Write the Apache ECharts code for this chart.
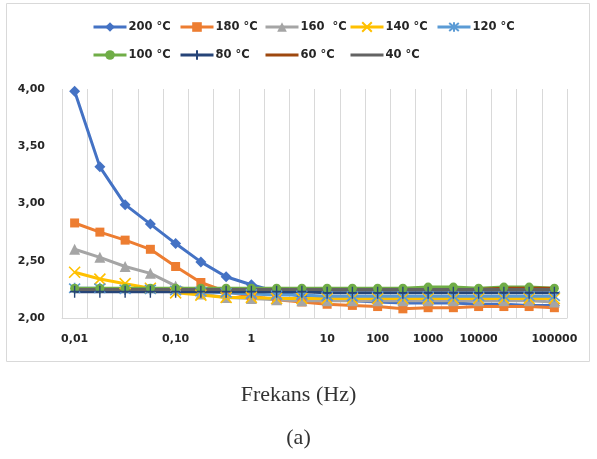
<!DOCTYPE html>
<html>
<head>
<meta charset="utf-8">
<script src="https://cdn.jsdelivr.net/npm/echarts@6/dist/echarts.min.js"></script>
<style>html,body{margin:0;padding:0;background:#fff}#c{width:597px;height:459px}</style>
</head>
<body>
<div id="c"></div>
<script>
const categories = ['0.01','0.0178','0.0316','0.0562','0.1','0.178','0.316','1','2.15','4.64','10','31.6','100','316','1000','3162','10000','21544','46416','100000'];
const tickLabels = ['0,01','','','','0,10','','','1','','','10','','100','','1000','','10000','','','100000'];
const yTicks = [2.0, 2.5, 3.0, 3.5, 4.0];
const seriesNames = ['200 °C','180 °C','160  °C','140 °C','120 °C','100 °C','80 °C','60 °C','40 °C'];
const s200 = [3.98,3.32,2.99,2.82,2.65,2.49,2.36,2.29,2.23,2.19,2.16,2.15,2.14,2.13,2.13,2.13,2.12,2.12,2.11,2.11];
const s180 = [2.83,2.75,2.68,2.60,2.45,2.31,2.23,2.19,2.16,2.14,2.12,2.11,2.10,2.08,2.09,2.09,2.10,2.10,2.10,2.09];
const s160 = [2.60,2.53,2.45,2.39,2.28,2.21,2.18,2.17,2.16,2.15,2.15,2.15,2.15,2.15,2.15,2.15,2.15,2.15,2.15,2.14];
const s140 = [2.40,2.34,2.30,2.26,2.22,2.20,2.18,2.18,2.17,2.17,2.17,2.17,2.17,2.17,2.17,2.17,2.17,2.17,2.17,2.17];
const s120 = [2.26,2.26,2.25,2.25,2.24,2.23,2.22,2.21,2.20,2.20,2.19,2.19,2.19,2.19,2.19,2.19,2.19,2.19,2.19,2.19];
const s100 = [2.26,2.26,2.26,2.26,2.26,2.26,2.26,2.26,2.26,2.26,2.26,2.26,2.26,2.26,2.27,2.27,2.26,2.27,2.27,2.26];
const s80 = [2.23,2.23,2.23,2.23,2.23,2.23,2.23,2.23,2.23,2.23,2.22,2.22,2.22,2.22,2.22,2.22,2.22,2.22,2.22,2.22];
const s60 = [2.25,2.25,2.25,2.25,2.25,2.25,2.25,2.25,2.25,2.25,2.25,2.25,2.25,2.25,2.25,2.25,2.25,2.26,2.26,2.26];
const s40 = [2.25,2.25,2.25,2.25,2.25,2.25,2.25,2.25,2.25,2.25,2.25,2.25,2.25,2.25,2.25,2.25,2.25,2.25,2.25,2.25];
const seriesValues = [s200,s180,s160,s140,s120,s100,s80,s60,s40];

const colors = ['#4472C4','#ED7D31','#A5A5A5','#FFC000','#5B9BD5','#70AD47','#264478','#9E480E','#636363'];
const xPath = 'path://M0 0L10 10M10 0L0 10';
const starPath = 'path://M0 0L10 10M10 0L0 10M5 -1L5 11';
const plusPath = 'path://M5 0L5 10M0 5L10 5';
const symbols = ['diamond','rect','triangle',xPath,starPath,'circle',plusPath,'none','none'];
const symbolSizes = [11,9,11,11,11,9,[9,12],0,0];
const stroked = [false,false,false,true,true,false,true,false,false];

const legendLeft = [92,179,264,349,436,92,179,264,349];
const legendTop = [21,21,21,21,21,49,49,49,49];

const chart = echarts.init(document.getElementById('c'));
const series = seriesNames.map((n,i)=>({
  name:n, type:'line', data:seriesValues[i],
  symbol:symbols[i], symbolSize:symbolSizes[i], showSymbol: symbols[i] !== 'none',
  lineStyle:{width:3,color:colors[i]},
  itemStyle: stroked[i] ? {color:'rgba(0,0,0,0)',borderColor:colors[i],borderWidth:1.6} : {color:colors[i],borderWidth:0},
  emphasis:{disabled:true},
  animation:false,
  z: 2
}));
const legends = seriesNames.map((n,i)=>({
  data:[symbols[i]==='none' ? {name:n, itemStyle:{opacity:0}} : {name:n}],
  left:legendLeft[i], top:legendTop[i], itemWidth:33, itemHeight:12, itemGap:0, padding:0,
  selectedMode:false,
  lineStyle:{width:3},
  textStyle:{fontFamily:'DejaVu Sans',fontWeight:'bold',fontSize:11.5,color:'#262626',padding:[0,0,0,-3]}
}));
chart.setOption({
  animation:false,
  legend: legends,
  grid:{left:62,right:30,top:89,bottom:141,containLabel:false},
  xAxis:{
    type:'category', data:categories, boundaryGap:true,
    axisLine:{show:true,lineStyle:{color:'#d9d9d9',width:1}},
    axisTick:{show:false},
    splitLine:{show:true,interval:0,lineStyle:{color:'#d9d9d9',width:1}},
    axisLabel:{interval:(idx)=>tickLabels[idx]!=='', formatter:(v,idx)=>tickLabels[idx],
      fontFamily:'DejaVu Sans',fontWeight:'bold',fontSize:11,color:'#262626',margin:16}
  },
  yAxis:{
    type:'value', min:yTicks[0], max:yTicks[yTicks.length-1], interval:0.5,
    axisLine:{show:false}, axisTick:{show:false}, splitLine:{show:false},
    axisLabel:{formatter:(v)=>v.toFixed(2).replace('.',','),
      fontFamily:'DejaVu Sans',fontWeight:'bold',fontSize:11,color:'#262626',margin:17}
  },
  graphic:[
    {type:'rect',shape:{x:6.5,y:3.5,width:583,height:358},style:{fill:'none',stroke:'#d9d9d9',lineWidth:1},z:-1,silent:true},
    {type:'text',left:'center',top:384,style:{text:'Frekans (Hz)',font:'22px "Liberation Serif"',fill:'#333'}},
    {type:'text',left:'center',top:427,style:{text:'(a)',font:'22px "Liberation Serif"',fill:'#333'}}
  ],
  series: series
});
</script>
</body>
</html>
